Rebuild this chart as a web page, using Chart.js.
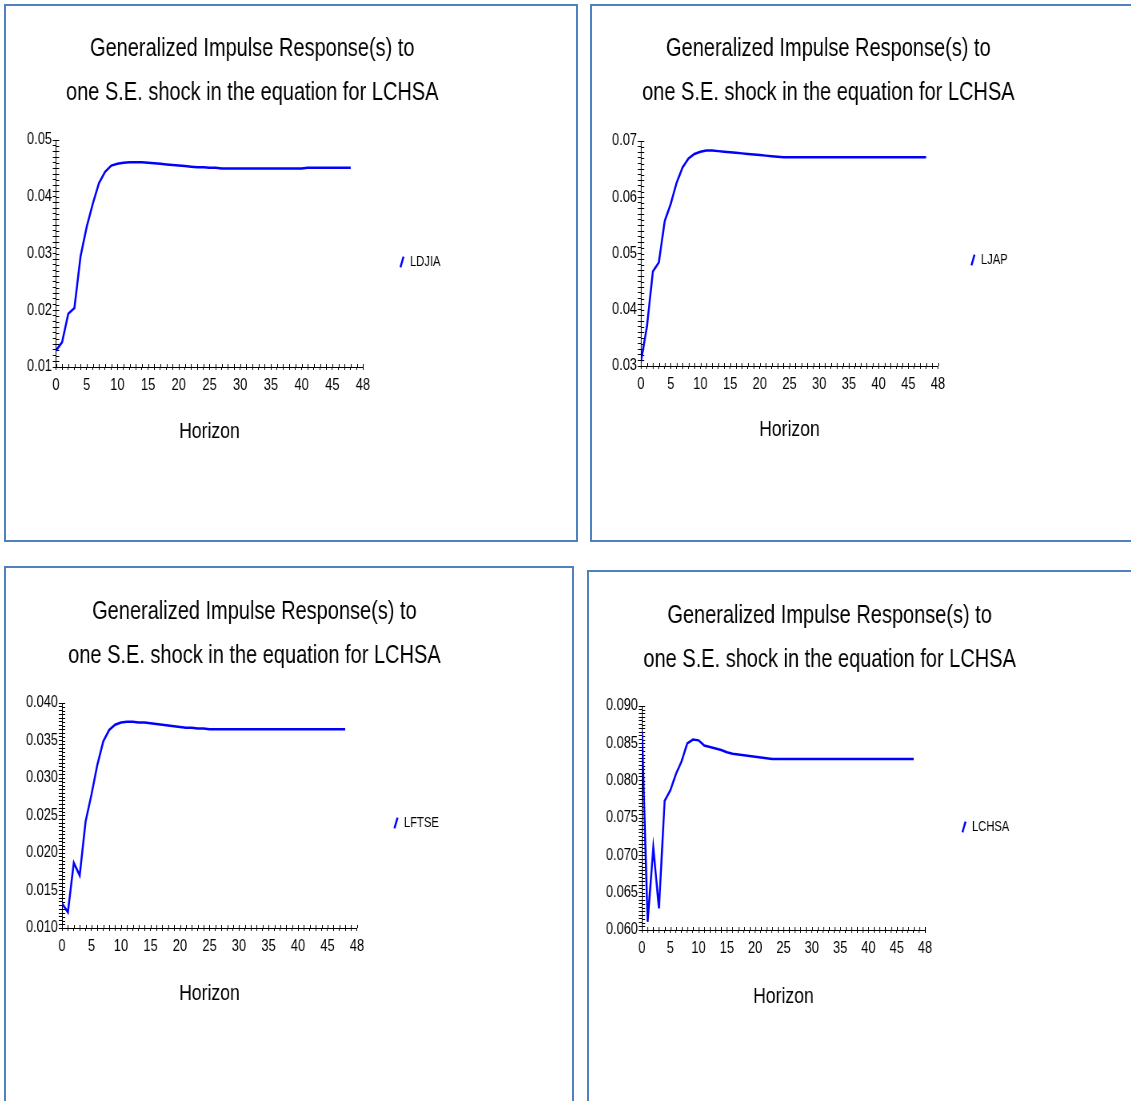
<!DOCTYPE html>
<html>
<head>
<meta charset="utf-8">
<script src="https://cdn.jsdelivr.net/npm/chart.js@4.4.1/dist/chart.umd.min.js"></script>
<style>
  body { margin: 0; width: 1131px; height: 1101px; overflow: hidden; background: #fff; position: relative; }
  .panel { position: absolute; border: 2px solid #4f81bd; box-sizing: border-box; background: #fff; overflow: hidden; }
  /* the original charts are horizontally condensed, so each canvas is squeezed */
  .panel canvas { display: block; transform: scaleX(0.8); transform-origin: 0 0; }
</style>
</head>
<body>
<div class="panel" id="p1" style="left:4px;top:4px;width:574px;height:538px"><canvas></canvas></div>
<div class="panel" id="p2" style="left:590px;top:4px;width:560px;height:538px"><canvas></canvas></div>
<div class="panel" id="p3" style="left:4px;top:566px;width:570px;height:540px"><canvas></canvas></div>
<div class="panel" id="p4" style="left:587px;top:570px;width:560px;height:540px"><canvas></canvas></div>
<script>
// horizons 0..48
const horizon = [0, 1, 2, 3, 4, 5, 6, 7, 8, 9, 10, 11, 12, 13, 14, 15, 16, 17, 18, 19, 20, 21, 22, 23, 24,
  25, 26, 27, 28, 29, 30, 31, 32, 33, 34, 35, 36, 37, 38, 39, 40, 41, 42, 43, 44, 45, 46, 47, 48];

// responses
const ldjia = [0.0129, 0.0144, 0.0194, 0.0204, 0.0295, 0.0347, 0.0388, 0.0424, 0.0444, 0.0455,
  0.0458, 0.0460, 0.0461, 0.0461, 0.0461, 0.0460, 0.0459, 0.0458, 0.0457, 0.0456,
  0.0455, 0.0454, 0.0453, 0.0452, 0.0452, 0.0451, 0.0451, 0.0450, 0.0450, 0.0450,
  0.0450, 0.0450, 0.0450, 0.0450, 0.0450, 0.0450, 0.0450, 0.0450, 0.0450, 0.0450,
  0.0450, 0.0451, 0.0451, 0.0451, 0.0451, 0.0451, 0.0451, 0.0451, 0.0451];
const ljap = [0.0308, 0.0370, 0.0468, 0.0484, 0.0558, 0.0588, 0.0626, 0.0653, 0.0669, 0.0677,
  0.0681, 0.0683, 0.0683, 0.0682, 0.0681, 0.0680, 0.0679, 0.0678, 0.0677, 0.0676,
  0.0675, 0.0674, 0.0673, 0.0672, 0.0671, 0.0671, 0.0671, 0.0671, 0.0671, 0.0671,
  0.0671, 0.0671, 0.0671, 0.0671, 0.0671, 0.0671, 0.0671, 0.0671, 0.0671, 0.0671,
  0.0671, 0.0671, 0.0671, 0.0671, 0.0671, 0.0671, 0.0671, 0.0671, 0.0671];
const lftse = [0.0133, 0.0121, 0.0187, 0.0170, 0.0242, 0.0278, 0.0318, 0.0349, 0.0364, 0.0371,
  0.0374, 0.0375, 0.0375, 0.0374, 0.0374, 0.0373, 0.0372, 0.0371, 0.0370, 0.0369,
  0.0368, 0.0367, 0.0367, 0.0366, 0.0366, 0.0365, 0.0365, 0.0365, 0.0365, 0.0365,
  0.0365, 0.0365, 0.0365, 0.0365, 0.0365, 0.0365, 0.0365, 0.0365, 0.0365, 0.0365,
  0.0365, 0.0365, 0.0365, 0.0365, 0.0365, 0.0365, 0.0365, 0.0365, 0.0365];
const lchsa = [0.0865, 0.0611, 0.0710, 0.0629, 0.0773, 0.0787, 0.0809, 0.0826, 0.0850, 0.0855,
  0.0854, 0.0847, 0.0845, 0.0843, 0.0841, 0.0838, 0.0836, 0.0835, 0.0834, 0.0833,
  0.0832, 0.0831, 0.0830, 0.0829, 0.0829, 0.0829, 0.0829, 0.0829, 0.0829, 0.0829,
  0.0829, 0.0829, 0.0829, 0.0829, 0.0829, 0.0829, 0.0829, 0.0829, 0.0829, 0.0829,
  0.0829, 0.0829, 0.0829, 0.0829, 0.0829, 0.0829, 0.0829, 0.0829, 0.0829];

// tick labels
const xLabels = ['0', '5', '10', '15', '20', '25', '30', '35', '40', '45'];
const xEndLabel = '48';
const yLabels1 = ['0.01', '0.02', '0.03', '0.04', '0.05'];
const yLabels2 = ['0.03', '0.04', '0.05', '0.06', '0.07'];
const yLabels3 = ['0.010', '0.015', '0.020', '0.025', '0.030', '0.035', '0.040'];
const yLabels4 = ['0.060', '0.065', '0.070', '0.075', '0.080', '0.085', '0.090'];

const titleLines = ['Generalized Impulse Response(s) to', 'one S.E. shock in the equation for LCHSA'];
const FONT = '"Liberation Sans", Arial, sans-serif';
const SX = 0.8; // same as the css scaleX

// where things sit inside each box (box pixels, before the squeeze)
const panels = [
  { id: 'p1', series: 'LDJIA', values: ldjia, yMin: 0.01, yMax: 0.05, yStep: 0.001, dec: 2, yLabels: yLabels1,
    plotLeft: 50, plotRight: 357, plotTop: 134, plotBottom: 361, titleY: 43, legendX: 404, legendY: 256, horizonY: 426 },
  { id: 'p2', series: 'LJAP', values: ljap, yMin: 0.03, yMax: 0.07, yStep: 0.001, dec: 2, yLabels: yLabels2,
    plotLeft: 49, plotRight: 346, plotTop: 135, plotBottom: 360, titleY: 43, legendX: 389, legendY: 254, horizonY: 424 },
  { id: 'p3', series: 'LFTSE', values: lftse, yMin: 0.01, yMax: 0.04, yStep: 0.0005, dec: 3, yLabels: yLabels3,
    plotLeft: 56, plotRight: 351, plotTop: 135, plotBottom: 360, titleY: 44, legendX: 398, legendY: 255, horizonY: 426 },
  { id: 'p4', series: 'LCHSA', values: lchsa, yMin: 0.06, yMax: 0.09, yStep: 0.0005, dec: 3, yLabels: yLabels4,
    plotLeft: 53, plotRight: 336, plotTop: 134, plotBottom: 358, titleY: 44, legendX: 383, legendY: 255, horizonY: 425 }
];

// short tick marks inside the plot so the ticks cross the axes
const crossTicks = {
  id: 'crossTicks',
  beforeDatasetsDraw(chart) {
    const { ctx, chartArea, scales: { x, y } } = chart;
    ctx.save();
    ctx.strokeStyle = '#000';
    ctx.lineWidth = 1;
    ctx.beginPath();
    x.ticks.forEach(t => {
      const px = Math.round(x.getPixelForValue(t.value)) + 0.5;
      ctx.moveTo(px, chartArea.bottom);
      ctx.lineTo(px, chartArea.bottom - 3);
    });
    y.ticks.forEach(t => {
      const py = Math.round(y.getPixelForValue(t.value)) + 0.5;
      ctx.moveTo(chartArea.left, py);
      ctx.lineTo(chartArea.left + 4, py);
    });
    ctx.stroke();
    ctx.restore();
  }
};

const measure = document.createElement('canvas').getContext('2d');

panels.forEach(p => {
  const div = document.getElementById(p.id);
  const canvas = div.querySelector('canvas');
  const W = Math.round(div.clientWidth / SX), H = div.clientHeight;
  canvas.width = W;
  canvas.height = H;

  const left = p.plotLeft / SX, right = p.plotRight / SX, legendX = p.legendX / SX;
  measure.font = '14px ' + FONT;
  const textW = measure.measureText(p.series).width;
  measure.font = '16px ' + FONT;
  const yLabelW = measure.measureText(p.yLabels[0]).width;

  const legendPad = legendX - right - 13;
  const padRight = W - (legendX + textW + 10);
  const padBottom = H - 2 * p.legendY;
  const xHeight = H - padBottom - p.plotBottom;
  const titlePadTop = p.titleY - 22;
  const titlePadBottom = p.plotTop - titlePadTop - 88;
  const horizonPad = (H - padBottom) - p.horizonY - 13.2;

  new Chart(canvas, {
    type: 'line',
    data: {
      labels: horizon,
      datasets: [{
        label: p.series,
        data: p.values,
        borderColor: '#0000ff',
        borderWidth: 2.5,
        tension: 0,
        fill: false,
        pointRadius: 0,
        pointStyle: 'line',
        pointRotation: -70,
        pointBorderColor: '#0000ff',
        pointBorderWidth: 2.5
      }]
    },
    options: {
      responsive: false,
      animation: false,
      layout: { padding: { left: left, right: padRight, top: 0, bottom: padBottom } },
      plugins: {
        title: {
          display: true,
          text: titleLines,
          color: '#000',
          font: { family: FONT, size: 25, weight: 'normal', lineHeight: 1.76 },
          padding: { top: titlePadTop, bottom: titlePadBottom }
        },
        legend: {
          position: 'right',
          labels: {
            usePointStyle: true,
            boxWidth: 6,
            boxHeight: 8,
            padding: legendPad,
            color: '#000',
            font: { family: FONT, size: 14 }
          }
        },
        tooltip: { enabled: false }
      },
      scales: {
        x: {
          type: 'linear',
          min: 0,
          max: 50,
          afterFit: s => { s.height = xHeight; },
          border: { color: '#000', width: 1 },
          grid: { drawOnChartArea: false, tickLength: 3, color: '#000' },
          ticks: {
            stepSize: 1,
            autoSkip: false,
            maxRotation: 0,
            minRotation: 0,
            padding: 6,
            color: '#000',
            font: { family: FONT, size: 16 },
            callback: v => {
              if (v === 50) return xEndLabel;
              const s = String(v);
              return xLabels.includes(s) ? s : '';
            }
          },
          title: {
            display: true,
            text: 'Horizon',
            color: '#000',
            font: { family: FONT, size: 22, lineHeight: 1.2 },
            padding: { top: 0, bottom: horizonPad }
          }
        },
        y: {
          min: p.yMin,
          max: p.yMax,
          // the axis takes no room, its labels are pulled back to the left of the line
          afterFit: s => { s.width = 0; },
          border: { color: '#000', width: 1 },
          grid: { drawOnChartArea: false, tickLength: 4, color: '#000' },
          ticks: {
            mirror: true,
            stepSize: p.yStep,
            autoSkip: false,
            maxTicksLimit: 1000,
            padding: -(yLabelW + 5),
            color: '#000',
            font: { family: FONT, size: 16 },
            callback: v => {
              const s = v.toFixed(p.dec);
              if (Math.abs(Number(s) - v) > 1e-9) return '';
              return p.yLabels.includes(s) ? s : '';
            }
          }
        }
      }
    },
    plugins: [crossTicks]
  });
});
</script>
</body>
</html>
